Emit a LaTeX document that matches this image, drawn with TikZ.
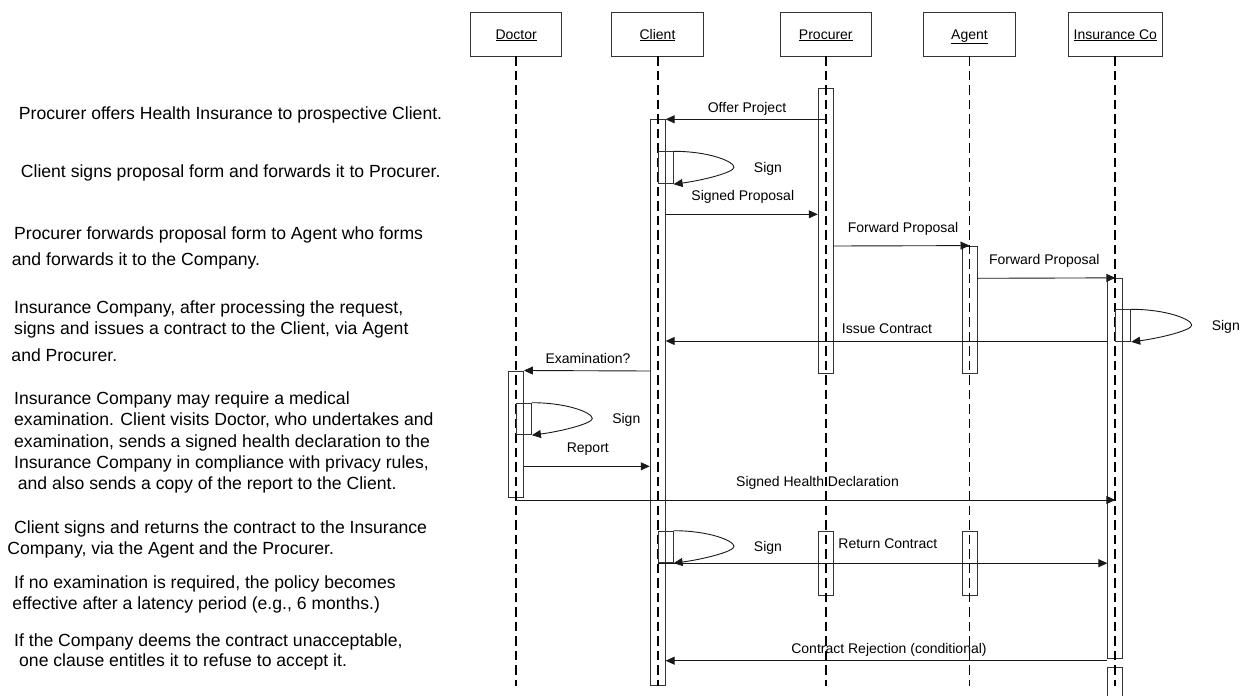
\documentclass[tikz,border=0pt]{standalone}
\usepackage{fontspec}
\setmainfont{Liberation Sans}
\usetikzlibrary{arrows.meta}
\tikzset{
  lifeline/.style={line width=1.8pt, dash pattern=on 9.5pt off 5pt},
  headbox/.style={draw=black!80, line width=0.9pt, minimum height=44pt, inner sep=0pt,
    font=\fontsize{14pt}{16pt}\selectfont, text height=10pt, text depth=0pt},
  actbox/.style={draw=black!80, line width=0.9pt, minimum width=15pt, inner sep=0pt},
  selfbox/.style={actbox, anchor=north west},
  msg/.style={draw=black!90, line width=0.9pt, -{Triangle[length=9pt,width=8pt]}},
  lbl/.style={font=\fontsize{14pt}{16pt}\selectfont, inner sep=0pt, text height=10pt, text depth=0pt},
  note/.style={font=\fontsize{17.6pt}{21pt}\selectfont, anchor=west, inner sep=0pt, text height=12.7pt, text depth=0pt},
}
\begin{document}
\begin{tikzpicture}[x=1pt,y=-1pt]
\useasboundingbox (0,0) rectangle (1243,696);

% ---- explanatory notes ----
\node[note] (n1)  at (18.7,113)   {Procurer offers Health Insurance to prospective Client.};
\node[note] (n2)  at (20.7,171)   {Client signs proposal form and forwards it to Procurer.};
\node[note] (n3a) at (14,233.3)   {Procurer forwards proposal form to Agent who forms};
\node[note] (n3b) at (11.7,259.3) {and forwards it to the Company.};
\node[note] (n4a) at (14,307.3)   {Insurance Company, after processing the request,};
\node[note] (n4b) at (14,328.3)   {signs and issues a contract to the Client, via Agent};
\node[note] (n4c) at (11.3,355)   {and Procurer.};
\node[note] (n5a) at (14,398.3)   {Insurance Company may require a medical};
\node[note] (n5b) at (14,419.3)   {examination. Client visits Doctor, who undertakes and};
\node[note] (n5c) at (14,441)     {examination, sends a signed health declaration to the};
\node[note] (n5d) at (14,462.3)   {Insurance Company in compliance with privacy rules,};
\node[note] (n5e) at (17.7,483.3) {and also sends a copy of the report to the Client.};
\node[note] (n6a) at (14,526.7)   {Client signs and returns the contract to the Insurance};
\node[note] (n6b) at (7.3,548.3)  {Company, via the Agent and the Procurer.};
\node[note] (n7a) at (14,582.3)   {If no examination is required, the policy becomes};
\node[note] (n7b) at (12.3,603.3) {effective after a latency period (e.g., 6 months.)};
\node[note] (n8a) at (14,640)     {If the Company deems the contract unacceptable,};
\node[note] (n8b) at (19,660)     {one clause entitles it to refuse to accept it.};

% ---- participants ----
\node[headbox, minimum width=91pt]   (hD) at (516.2,34) {\underline{Doctor}};
\node[headbox, minimum width=91.6pt] (hC) at (657.5,34) {\underline{Client}};
\node[headbox, minimum width=91.7pt] (hP) at (825.8,34) {\underline{Procurer}};
\node[headbox, minimum width=91.6pt] (hA) at (969.5,34) {\underline{Agent}};
\node[headbox, minimum width=94.7pt] (hI) at (1115.3,34) {\underline{Insurance Co}};

% ---- message levels ----
\coordinate (yEnd)    at (0,686);
\coordinate (yOffer)  at (0,119.3);
\coordinate (ySigned) at (0,214.3);
\coordinate (yFwdA)   at (0,246);
\coordinate (yFwdB)   at (0,278.3);
\coordinate (yIssue)  at (0,341);
\coordinate (yExam)   at (0,371);
\coordinate (yReport) at (0,466.3);
\coordinate (yHealth) at (0,500);
\coordinate (yReject) at (0,660.7);

% ---- activation bars ----
\node[actbox, minimum height=285pt]   (aP1) at (825.7,230.8) {};
\node[actbox, minimum height=566.4pt] (aC)  at (657.7,402.5) {};
\node[actbox, minimum height=127.3pt] (aA1) at (969.5,309.7) {};
\node[actbox, minimum height=380pt]   (aI1) at (1115.3,468.3) {};
\node[actbox, minimum height=45pt, anchor=north] (aI2) at (1115.3,667.3) {};
\node[actbox, minimum height=126.7pt] (aD)  at (516,434.3) {};
\node[actbox, minimum height=63.3pt]  (aP2) at (825.7,563.3) {};
\node[actbox, minimum height=63.3pt]  (aA2) at (969.5,563.3) {};

% ---- lifelines ----
\draw[lifeline] (hD.south -| aD) -- (aD |- yEnd);
\draw[lifeline] (hC.south -| aC) -- (aC |- yEnd);
\draw[lifeline] (hP.south -| aP1) -- (aP1 |- yEnd);
\draw[lifeline] (hA.south -| aA1) -- (aA1 |- yEnd);
\draw[lifeline] (hI.south -| aI1) -- (aI1 |- yEnd);

% ---- self calls ----
\node[selfbox, minimum height=32pt]   (sC1) at (657.7,151.3) {};
\node[selfbox, minimum height=31.7pt] (sI)  at (1115.3,309.3) {};
\node[selfbox, minimum height=31.6pt] (sD)  at (516,402.7) {};
\node[selfbox, minimum height=31.6pt] (sC2) at (657.7,530.7) {};
\coordinate (tC1) at (734,167.3);
\coordinate (tI)  at (1191.7,325.2);
\coordinate (tD)  at (592.3,418.5);
\coordinate (tC2) at (734,546.5);
\foreach \s/\t in {sC1/tC1, sI/tI, sD/tD, sC2/tC2} {
  \draw[msg] (\s.north east) .. controls +(35,0) and +(0,-6) .. (\t)
                             .. controls +(0,5) and +(30,-4) .. (\s.south east);
}

% ---- messages ----
\draw[msg] (aP1 |- yOffer) -- (aC.east |- yOffer);
\draw[msg] (aC.east |- ySigned) -- (aP1.west |- ySigned);
\draw[msg] (aP1.east |- yFwdA) -- (aA1.north);
\draw[msg] (aA1.east |- yFwdB) -- (aI1.north);
\draw[msg] (aI1.west |- yIssue) -- (aC.east |- yIssue);
\draw[msg] (aC.west |- yExam) -- (aD.north east);
\draw[msg] (aD.east |- yReport) -- (aC.west |- yReport);
\draw[msg] (aD |- yHealth) -- (aI1 |- yHealth);
\draw[msg] (sC2.south west) -- (aI1.west |- sC2.south west);
\draw[msg] (aI1.west |- yReject) -- (aC.east |- yReject);

% ---- message labels ----
\node[lbl] (lOffer)  at (747,107.7)    {Offer Project};
\node[lbl] (lSign1)  at (768,167.3)    {Sign};
\node[lbl] (lSigned) at (742.8,195.3)  {Signed Proposal};
\node[lbl] (lFwdA)   at (903,227)      {Forward Proposal};
\node[lbl] (lFwdB)   at (1044.3,259.3) {Forward Proposal};
\node[lbl] (lSignI)  at (1225.8,325.7) {Sign};
\node[lbl] (lIssue)  at (887,328.3)    {Issue Contract};
\node[lbl] (lExam)   at (588,358.3)    {Examination?};
\node[lbl] (lSignD)  at (626.3,418.3)  {Sign};
\node[lbl] (lReport) at (587.8,447.3)  {Report};
\node[lbl] (lHealth) at (817.5,481.7)  {Signed Health Declaration};
\node[lbl] (lSign2)  at (768,546.7)    {Sign};
\node[lbl] (lReturn) at (887.8,543.3)  {Return Contract};
\node[lbl] (lReject) at (889,648.3)    {Contract Rejection (conditional)};
\end{tikzpicture}
\end{document}
